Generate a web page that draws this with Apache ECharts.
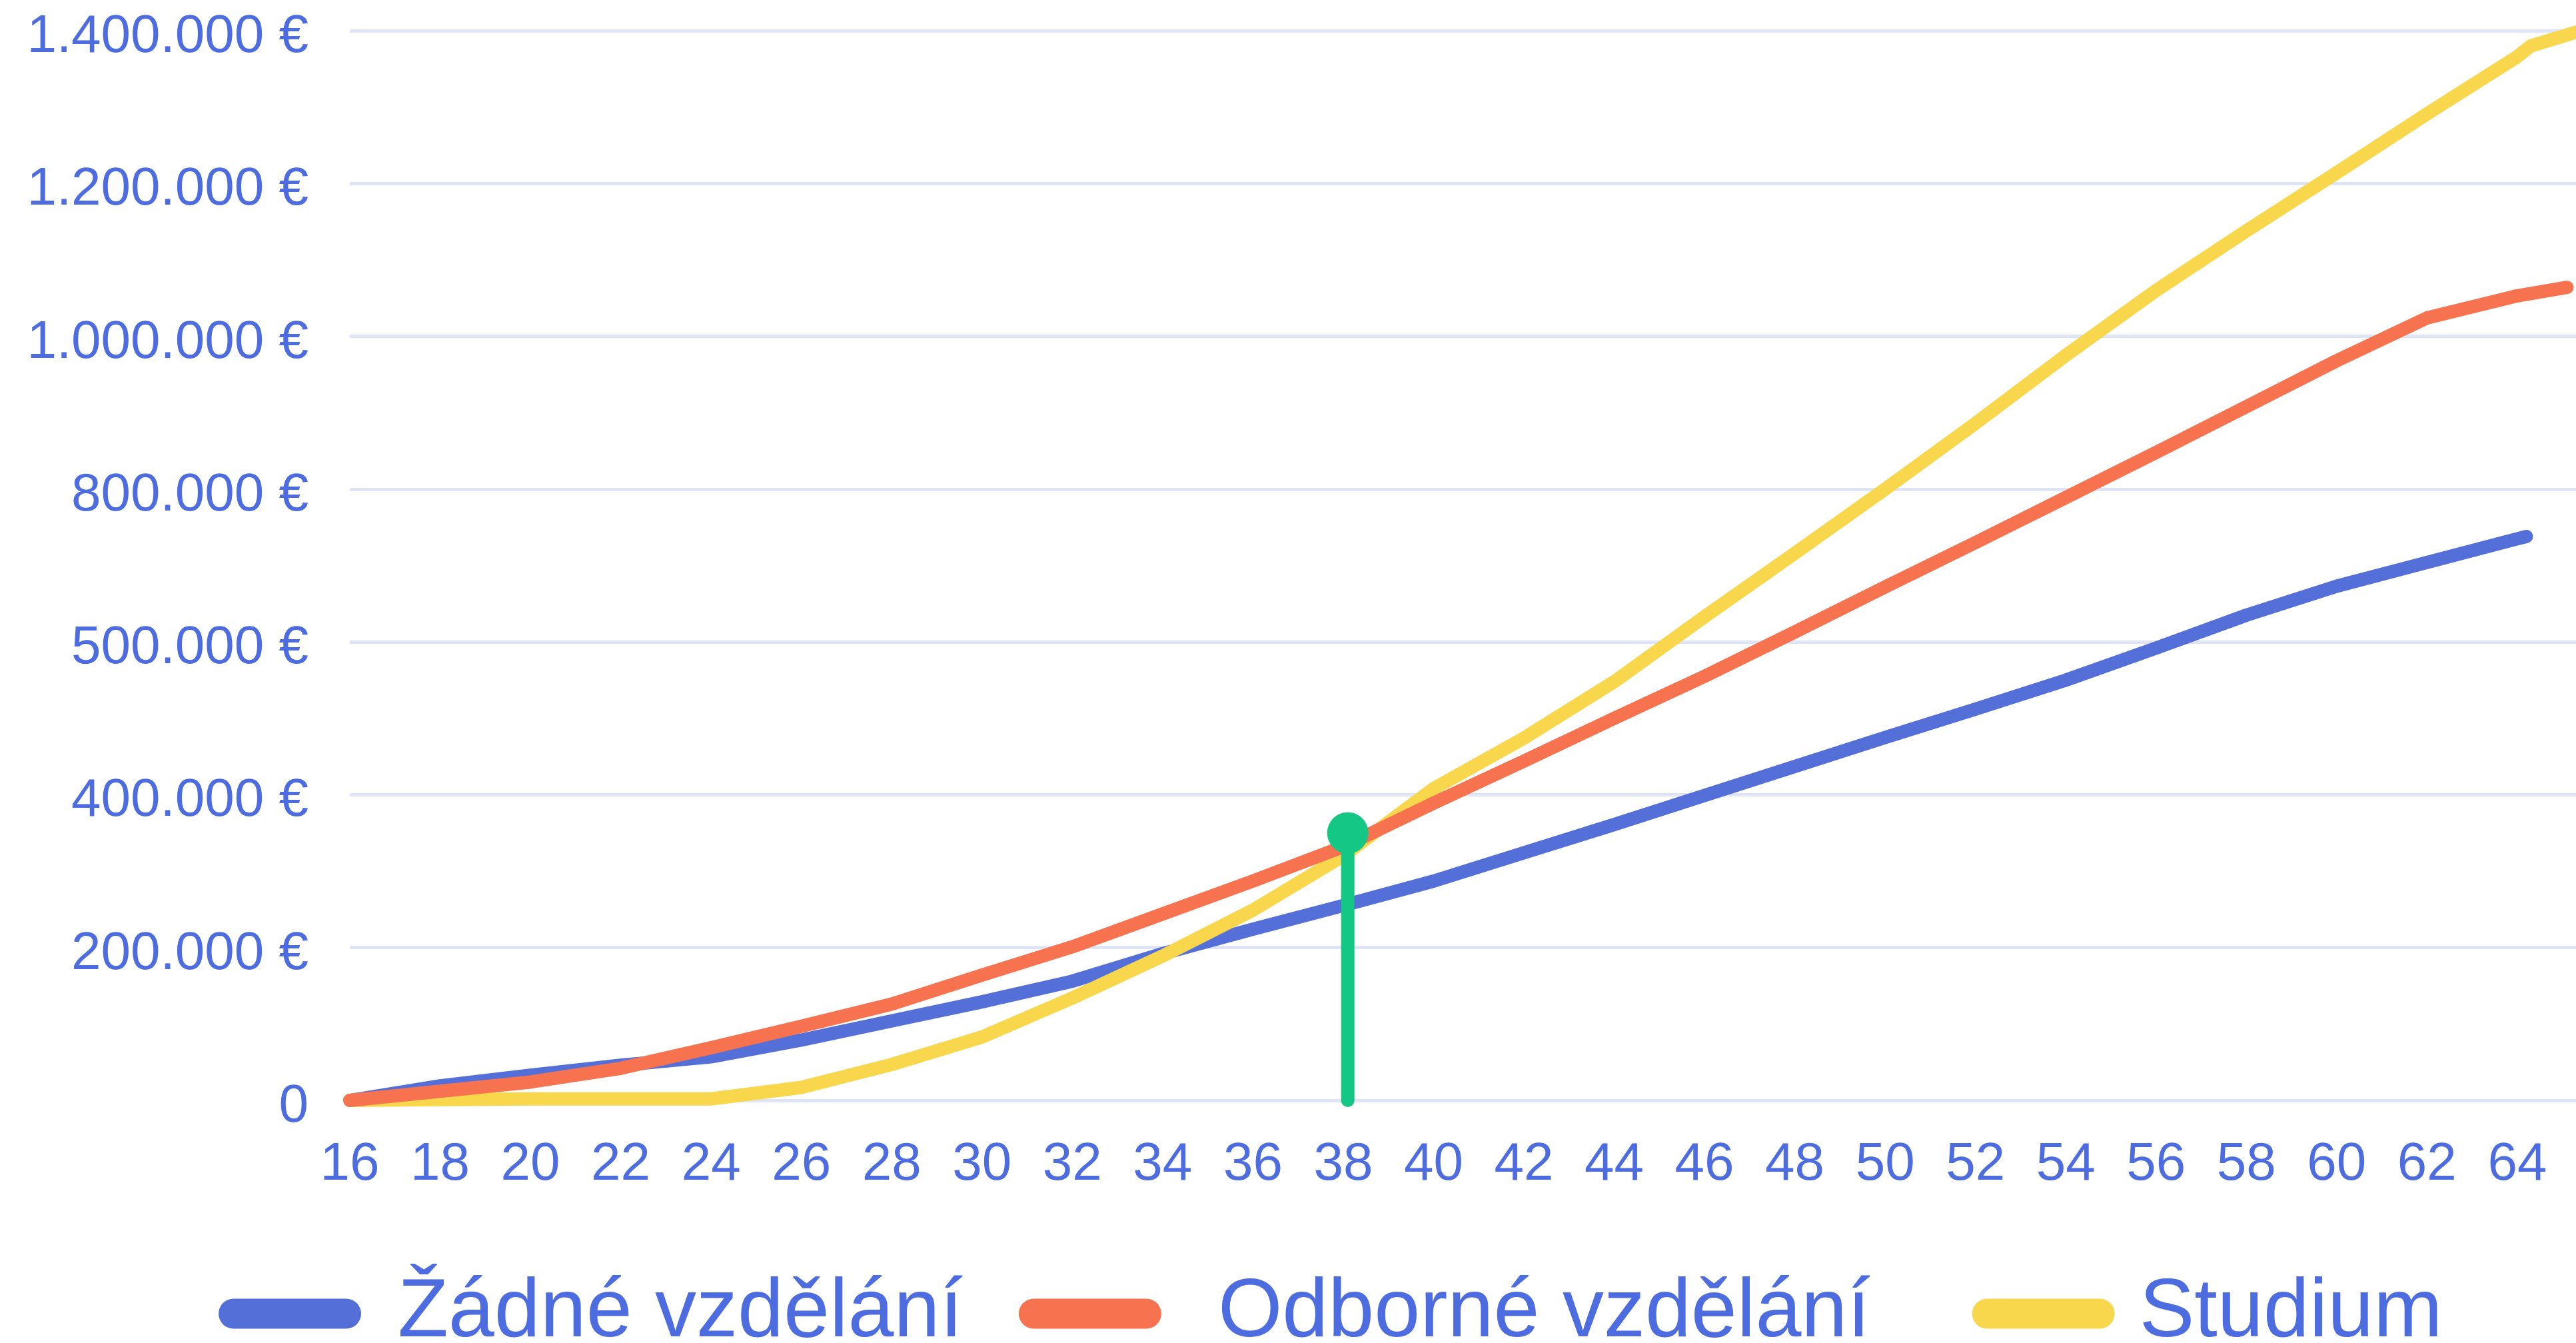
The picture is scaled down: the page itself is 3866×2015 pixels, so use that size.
<!DOCTYPE html>
<html>
<head>
<meta charset="utf-8">
<script src="https://cdn.jsdelivr.net/npm/echarts@6/dist/echarts.min.js"></script>
<style>
html,body{margin:0;padding:0;background:#ffffff;}
#chart{width:3866px;height:2015px;}
</style>
</head>
<body>
<div id="chart"></div>
<script>
// ---- data ----
const ages = [16,18,20,22,24,26,28,30,32,34,36,38,40,42,44,46,48,50,52,54,56,58,60,62,64];
const noEducation = [0,19000,33000,46000,57000,79000,104000,129000,156000,192000,224000,255000,287000,324000,361000,399000,437000,475000,512000,550000,592000,635000,673000,704000,735000];
const noEducationTailAges = [64.2];
const noEducationTail = [738000];
const vocational = [0,12000,24000,42000,69000,97000,126000,164000,201000,244000,287000,332000,389000,444000,500000,555000,613000,672000,730000,789000,848000,908000,968000,1024000,1053000];
const vocationalTailAges = [65.1];
const vocationalTail = [1064000];
const study = [0,1000,2000,2000,2000,17000,47000,83000,134000,189000,249000,320000,408000,474000,548000,633000,716000,800000,886000,975000,1060000,1138000,1214000,1291000,1366000];
const studyTailAges = [64.3, 65.3];
const studyTail = [1380000, 1398000];
const markerAge = [38.1];
const markerValue = [350000];
const seriesNames = ['Žádné vzdělání', 'Odborné vzdělání', 'Studium'];
const yTickLabels = ['0', '200.000 €', '400.000 €', '500.000 €', '800.000 €', '1.000.000 €', '1.200.000 €', '1.400.000 €'];

function pairs(xs, ys, tx, ty) {
  const out = xs.map((x, i) => [x, ys[i]]);
  tx.forEach((x, i) => out.push([x, ty[i]]));
  return out;
}

const textBlue = '#4d6ce0';
const colors = ['#5470d8', '#f7734f', '#f8d74d'];
const stadium = 'path://M22.5,0 L191.5,0 A22.5,22.5 0 0 1 191.5,45 L22.5,45 A22.5,22.5 0 0 1 22.5,0 Z';
const font = 'Liberation Sans, Arial, sans-serif';

const chart = echarts.init(document.getElementById('chart'), null, {renderer: 'canvas'});
chart.setOption({
  backgroundColor: '#ffffff',
  animation: false,
  grid: {left: 525, right: 0, top: 46, bottom: 364, containLabel: false, outerBoundsMode: 'none'},
  xAxis: {
    type: 'value', min: 16, max: 65.3, interval: 2,
    axisLine: {show: false}, axisTick: {show: false}, splitLine: {show: false},
    axisLabel: {
      color: textBlue, fontSize: 80, fontFamily: font, margin: 57,
      showMaxLabel: false, hideOverlap: false,
      formatter: v => (Math.abs(v % 2) < 1e-6 && v <= 64) ? String(v) : ''
    }
  },
  yAxis: {
    type: 'value', min: 0, max: 1400000, interval: 200000,
    axisLine: {show: false}, axisTick: {show: false},
    splitLine: {show: true, lineStyle: {color: '#dfe4f7', width: 5}},
    axisLabel: {
      color: textBlue, fontSize: 80, fontFamily: font, margin: 62,
      verticalAlign: 'top', lineHeight: 20,
      formatter: v => yTickLabels[Math.round(v / 200000)]
    }
  },
  legend: {
    left: 328, top: 1909, padding: 0,
    icon: stadium, itemWidth: 214, itemHeight: 45, itemGap: 84,
    itemStyle: {borderWidth: 0},
    textStyle: {color: textBlue, fontSize: 124, fontFamily: font},
    formatter: name => name === seriesNames[1] ? name + '\u00a0\u00a0' : name,
    data: [
      {name: seriesNames[0], textStyle: {padding: [0, 0, 0, 50]}},
      {name: seriesNames[1], textStyle: {padding: [0, 0, 0, 80]}},
      {name: seriesNames[2], textStyle: {padding: [0, 0, 0, 32]}}
    ]
  },
  series: [
    {
      name: seriesNames[0], type: 'line', z: 2, showSymbol: false, symbol: 'none',
      color: colors[0],
      lineStyle: {width: 20, color: colors[0], cap: 'round', join: 'round'},
      data: pairs(ages, noEducation, noEducationTailAges, noEducationTail)
    },
    {
      name: seriesNames[1], type: 'line', z: 4, showSymbol: false, symbol: 'none',
      color: colors[1],
      lineStyle: {width: 20, color: colors[1], cap: 'round', join: 'round'},
      data: pairs(ages, vocational, vocationalTailAges, vocationalTail)
    },
    {
      name: seriesNames[2], type: 'line', z: 3, showSymbol: false, symbol: 'none',
      color: colors[2],
      lineStyle: {width: 20, color: colors[2], cap: 'round', join: 'round'},
      data: pairs(ages, study, studyTailAges, studyTail)
    },
    {
      name: 'marker', type: 'line', z: 6, color: '#15c784',
      lineStyle: {width: 20, color: '#15c784', cap: 'round'},
      itemStyle: {color: '#15c784'},
      data: [
        {value: [markerAge[0], 0], symbol: 'none'},
        {value: [markerAge[0], markerValue[0]], symbol: 'circle', symbolSize: 62}
      ]
    }
  ]
});
</script>
</body>
</html>
